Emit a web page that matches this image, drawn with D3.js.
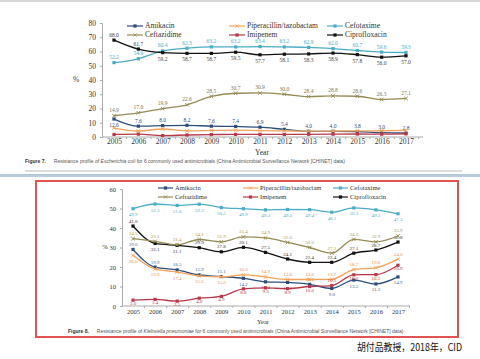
<!DOCTYPE html>
<html>
<head>
<meta charset="utf-8">
<script src="https://cdn.jsdelivr.net/npm/d3@7"></script>
<style>
	body { margin: 0; background: #fff; }
	svg { display: block; font-family: "Liberation Serif", "DejaVu Serif", serif; }
</style>
</head>
<body>
<div id="wrapper"></div>
<script>
const years = [2005, 2006, 2007, 2008, 2009, 2010, 2011, 2012, 2013, 2014, 2015, 2016, 2017];
const seriesNames = ["Amikacin", "Piperacillin/tazobactam", "Cefotaxime", "Ceftazidime", "Imipenem", "Ciprofloxacin"];

// Figure 7 - E. coli
const ecoliAmikacin    = [12.6, 7.6, 8.0, 8.2, 7.6, 7.4, 6.9, 5.4, 4.0, 4.0, 3.8, 3.0, 2.8];
const ecoliPipTazo     = [6.3, 4.2, 5.6, 4.3, 4.6, 4.8, 4.5, 4.3, 4.1, 4.2, 4.3, 4.4, 4.6];
const ecoliCefotaxime  = [52.2, 54.9, 60.4, 62.3, 63.2, 63.2, 63.4, 63.2, 62.9, 62.0, 60.7, 59.6, 59.3];
const ecoliCeftazidime = [14.9, 17.0, 19.9, 22.6, 28.5, 30.7, 30.9, 30.0, 28.4, 28.8, 28.6, 26.3, 27.1];
const ecoliImipenem    = [1.8, 2.0, 1.0, 1.4, 1.7, 1.8, 1.8, 1.8, 1.9, 2.0, 2.1, 2.0, 2.2];
const ecoliCipro       = [68.0, 61.7, 59.2, 58.7, 58.7, 59.5, 57.7, 58.1, 58.3, 58.9, 57.8, 56.0, 57.0];
const ecoliTicks = [0, 10, 20, 30, 40, 50, 60, 70, 80];

// Figure 8 - K. pneumoniae
const kpnAmikacin    = [29.0, 19.9, 18.5, 15.9, 15.1, 14.2, 12.4, 12.1, 11.1, 9.0, 13.3, 11.3, 14.9];
const kpnPipTazo     = [26.0, 19.0, 17.4, 15.5, 15.0, 16.0, 14.9, 13.6, 13.6, 13.7, 18.7, 19.6, 24.0];
const kpnCefotaxime  = [49.9, 52.3, 51.6, 52.2, 50.5, 49.9, 49.3, 49.5, 49.4, 48.1, 50.3, 49.3, 47.3];
const kpnCeftazidime = [34.5, 33.1, 31.4, 34.1, 32.9, 35.4, 34.9, 32.6, 30.0, 27.1, 34.2, 32.9, 35.9];
const kpnImipenem    = [3.0, 3.4, 2.5, 4.0, 4.9, 8.8, 9.3, 8.9, 10.0, 10.5, 16.0, 16.1, 20.9];
const kpnCipro       = [41.0, 32.1, 31.1, 29.9, 27.8, 30.1, 27.5, 24.1, 22.4, 22.4, 27.1, 28.7, 32.8];
const kpnTicks = [0, 10, 20, 30, 40, 50, 60];

const colors = {
	"Amikacin": "#2c4d7c",
	"Piperacillin/tazobactam": "#f2a25c",
	"Cefotaxime": "#4bacc6",
	"Ceftazidime": "#948a54",
	"Imipenem": "#b8374a",
	"Ciprofloxacin": "#111111"
};
const markers = {
	"Amikacin": "square", "Piperacillin/tazobactam": "cross", "Cefotaxime": "square",
	"Ceftazidime": "cross", "Imipenem": "square", "Ciprofloxacin": "square"
};

const width = 480, height = 359;
const svg = d3.select("#wrapper").append("svg")
	.attr("width", width)
	.attr("height", height);

// slide decoration
svg.append("rect").attr("x", 0).attr("y", 0).attr("width", width).attr("height", 2).attr("fill", "#d8d8d8");
svg.append("rect").attr("x", 25).attr("y", 170).attr("width", 437).attr("height", 2).attr("fill", "#dcdcdc");
svg.append("rect").attr("x", 0).attr("y", 174).attr("width", width).attr("height", 3).attr("fill", "#b9cadb");
svg.append("rect").attr("x", 36).attr("y", 181).attr("width", 422).attr("height", 156)
	.attr("fill", "none").attr("stroke", "#e05353").attr("stroke-width", 2);

function drawChart(cfg){
	const g = svg.append("g");
	const x = d3.scaleLinear().domain([years[0], years[years.length - 1]]).range(cfg.xRange);
	const y = d3.scaleLinear().domain([0, cfg.ticks[cfg.ticks.length - 1]]).range(cfg.yRange);

	// y axis
	const yAxis = g.append("g")
		.attr("transform", `translate(${cfg.axisX},0)`)
		.call(d3.axisLeft(y).tickValues(cfg.ticks).tickSize(2).tickPadding(cfg.tickPad).tickFormat(d3.format("d")));
	yAxis.select(".domain").attr("stroke", "#aaa");
	yAxis.selectAll(".tick line").attr("stroke", "#aaa");
	yAxis.selectAll("text").attr("fill", "#333").style("font-size", cfg.tickFont + "px").style("font-family", "Liberation Serif");

	// x axis
	const xAxis = g.append("g")
		.attr("transform", `translate(0,${cfg.yRange[0]})`)
		.call(d3.axisBottom(x).tickValues(years).tickSize(0).tickPadding(cfg.xPad).tickFormat(d3.format("d")));
	xAxis.select(".domain").attr("d", `M${cfg.axisX},0H${cfg.axisEnd}`).attr("stroke", "#aaa");
	xAxis.selectAll("text").attr("fill", "#333").style("font-size", cfg.tickFont + "px").style("font-family", "Liberation Serif");
	xAxis.selectAll(".tick").append("line").attr("y2", 2).attr("stroke", "#aaa")
		.attr("x1", d => (x(d + 0.5) - x(d))).attr("x2", d => (x(d + 0.5) - x(d)));

	g.append("text").attr("x", cfg.percentPos[0]).attr("y", cfg.percentPos[1])
		.attr("text-anchor", "middle").attr("fill", "#333")
		.style("font-size", cfg.tickFont + "px").text("%");
	g.append("text").attr("x", cfg.yearPos[0]).attr("y", cfg.yearPos[1])
		.attr("text-anchor", "middle").attr("fill", "#333")
		.style("font-size", cfg.tickFont + "px").text("Year");

	const line = d3.line().x((d, i) => x(years[i])).y(d => y(d)).curve(d3.curveMonotoneX);

	cfg.series.forEach(s => {
		const c = colors[s.name];
		g.append("path").datum(s.values)
			.attr("d", line).attr("fill", "none").attr("stroke", c).attr("stroke-width", 1.3);
		const pts = g.append("g").selectAll("g").data(s.values).enter().append("g")
			.attr("transform", (d, i) => `translate(${x(years[i])},${y(d)})`);
		if (markers[s.name] === "square"){
			pts.append("rect").attr("x", -1.6).attr("y", -1.6).attr("width", 3.2).attr("height", 3.2).attr("fill", c);
		} else {
			pts.append("path").attr("d", "M-1.8,-1.8L1.8,1.8M-1.8,1.8L1.8,-1.8").attr("stroke", c).attr("stroke-width", 0.9);
		}
		if (s.labels){
			const below = s.belowOffset || (cfg.labelFont + 2.5);
			g.append("g").selectAll("text").data(s.values).enter().append("text")
				.attr("x", (d, i) => x(years[i]))
				.attr("y", (d, i) => y(d) + (s.labels(i) === "above" ? -3.5 : below))
				.attr("text-anchor", "middle")
				.attr("fill", s.labelColor || c)
				.style("font-size", cfg.labelFont + "px")
				.text(d => d3.format(".1f")(d));
		}
	});

	// legend
	const legend = g.append("g");
	seriesNames.forEach((name, i) => {
		const col = i % 3, row = Math.floor(i / 3);
		const lx = cfg.legendCols[col], ly = cfg.legendRows[row];
		const c = colors[name];
		legend.append("line").attr("x1", lx).attr("x2", lx + cfg.legendLine)
			.attr("y1", ly).attr("y2", ly).attr("stroke", c).attr("stroke-width", 1.2);
		if (markers[name] === "square"){
			legend.append("rect").attr("x", lx + cfg.legendLine / 2 - 1.6).attr("y", ly - 1.6)
				.attr("width", 3.2).attr("height", 3.2).attr("fill", c);
		} else {
			legend.append("path").attr("transform", `translate(${lx + cfg.legendLine / 2},${ly})`)
				.attr("d", "M-1.6,-1.6L1.6,1.6M-1.6,1.6L1.6,-1.6").attr("stroke", c).attr("stroke-width", 0.8);
		}
		legend.append("text").attr("x", lx + cfg.legendLine + 2).attr("y", ly + cfg.legendFont * 0.33)
			.attr("fill", "#333").style("font-size", cfg.legendFont + "px").text(name);
	});

	// caption
	const cap = g.append("text").attr("x", cfg.captionPos[0]).attr("y", cfg.captionPos[1])
		.attr("fill", "#555").style("font-family", "Liberation Sans").style("font-size", "5px");
	cap.append("tspan").attr("font-weight", "bold").attr("fill", "#333").text(cfg.figure);
	cap.append("tspan").attr("dx", 8).text("Resistance profile of ");
	cap.append("tspan").attr("font-style", "italic").text(cfg.organism);
	cap.append("tspan").text(" for 6 commonly used antimicrobials (China Antimicrobial Surveillance Network [CHINET] data)");
}

drawChart({
	xRange: [114, 406], yRange: [137, 23], axisX: 102, axisEnd: 423,
	ticks: ecoliTicks, tickFont: 7.5, tickPad: 4, xPad: 2, labelFont: 5.5,
	percentPos: [76, 82], yearPos: [262, 155],
	legendCols: [127, 229, 327], legendRows: [26, 35], legendLine: 16, legendFont: 7.5,
	captionPos: [25, 163], figure: "Figure 7.", organism: "Escherichia coli",
	series: [
		{ name: "Cefotaxime", values: ecoliCefotaxime, labels: () => "above" },
		{ name: "Ciprofloxacin", values: ecoliCipro, labels: i => i < 2 ? "above" : "below", labelColor: "#444" },
		{ name: "Ceftazidime", values: ecoliCeftazidime, labels: () => "above", labelColor: "#7d7650" },
		{ name: "Amikacin", values: ecoliAmikacin, labels: i => i === 0 ? "below" : "above" },
		{ name: "Piperacillin/tazobactam", values: ecoliPipTazo },
		{ name: "Imipenem", values: ecoliImipenem }
	]
});

drawChart({
	xRange: [133, 398], yRange: [306, 189], axisX: 122, axisEnd: 410,
	ticks: kpnTicks, tickFont: 6.5, tickPad: 4, xPad: 3, labelFont: 5,
	percentPos: [105, 249], yearPos: [263, 324],
	legendCols: [158, 243, 333], legendRows: [188, 197], legendLine: 15, legendFont: 6.5,
	captionPos: [68, 333], figure: "Figure 8.", organism: "Klebsiella pneumoniae",
	series: [
		{ name: "Cefotaxime", values: kpnCefotaxime, labels: () => "below" },
		{ name: "Ciprofloxacin", values: kpnCipro, labels: i => (i === 1 || i === 2) ? "below" : "above", labelColor: "#333" },
		{ name: "Ceftazidime", values: kpnCeftazidime, labels: () => "above", labelColor: "#a89a50" },
		{ name: "Amikacin", values: kpnAmikacin, labels: i => (i < 5 || i === 8) ? "above" : "below", labelColor: "#3f6796" },
		{ name: "Piperacillin/tazobactam", values: kpnPipTazo, labels: i => i < 5 ? "below" : "above", labelColor: "#e8903c" },
		{ name: "Imipenem", values: kpnImipenem, labels: i => i === 9 ? "above" : "below", labelColor: "#c0392b", belowOffset: 5 }
	]
});

svg.append("text").attr("x", 357).attr("y", 351)
	.attr("fill", "#111").style("font-family", "Noto Sans CJK SC").style("font-size", "10.5px")
	.attr("textLength", 105).attr("lengthAdjust", "spacingAndGlyphs")
	.text("胡付品教授，2018年，CID");
</script>
</body>
</html>
